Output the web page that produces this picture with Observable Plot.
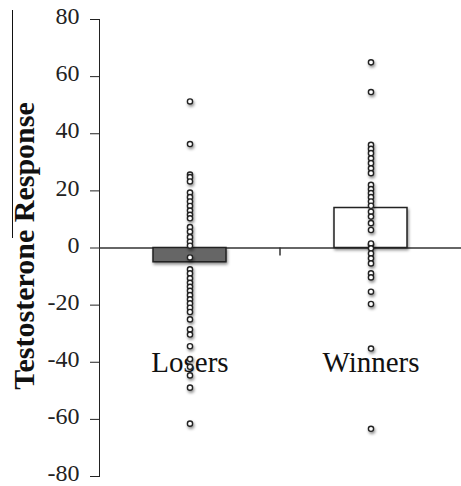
<!DOCTYPE html>
<html><head><meta charset="utf-8">
<script src="https://cdn.jsdelivr.net/npm/d3@7"></script>
<script src="https://cdn.jsdelivr.net/npm/@observablehq/plot@0.6"></script>
<style>
body{margin:0;background:#fff;overflow:hidden}
#wrap{position:relative;width:461px;height:486px}
#stray{position:absolute;left:12px;top:10px;height:228px;border-left:1.5px solid #111}
</style>
</head><body><div id="wrap"><div id="stray"></div></div>
<script>
const categories = ["Losers", "Winners"];
const means = [-5, 14];
const barFills = ["#666666", "#ffffff"];
const losersValues = [51.3, 36.4, 25.7, 24.8, 23.3, 19.4, 17.8, 16.3, 14.7, 13.1, 11.6, 10.4, 7.3, 5.7, 3.8, 2.2, 0.8, -3.3, -7.5, -8.9, -10.6, -12.2, -13.6, -15.0, -16.5, -18.0, -19.4, -20.9, -22.4, -25.0, -28.5, -30.3, -34.4, -38.9, -41.6, -44.6, -48.9, -61.5];
const winnersValues = [65.0, 54.6, 36.1, 34.7, 33.2, 31.4, 29.7, 27.9, 26.2, 22.1, 20.6, 19.2, 17.8, 16.3, 14.8, 12.7, 11.0, 8.7, 6.3, 1.1, 1.6, -0.1, -1.9, -3.6, -5.4, -8.9, -10.3, -15.3, -19.6, -35.2, -63.3];
const yTicks = [80, 60, 40, 20, 0, -20, -40, -60, -80];
const yLabel = "Testosterone Response";
const categoryLabelValue = -40;

const bars = categories.map((c, i) => ({group: c, mean: means[i], fill: barFills[i]}));
const points = [
  ...losersValues.map(v => ({group: "Losers", value: v})),
  ...winnersValues.map(v => ({group: "Winners", value: v}))
];

const plot = Plot.plot({
  width: 461, height: 486,
  marginLeft: 99, marginRight: 0, marginTop: 19, marginBottom: 10,
  style: {fontFamily: "'Liberation Serif', 'Times New Roman', serif", fontSize: "24px", color: "#222", background: "#fff"},
  x: {domain: categories, padding: 0, axis: null},
  y: {domain: [-80, 80], ticks: yTicks, tickFormat: d => String(d), tickSize: 9, tickPadding: 11, line: true, label: null},
  marks: [
    Plot.ruleY([0], {stroke: "#333", strokeWidth: 1.5}),
    Plot.barY(bars, {x: "group", y: "mean", fill: "fill", stroke: "#222", strokeWidth: 1.5, insetLeft: 54, insetRight: 54}),
    Plot.text(categories, {x: d => d, y: () => categoryLabelValue, fontSize: 29, fill: "#111"}),
    Plot.dot(points, {x: "group", y: "value", r: 2.6, fill: "#fff", stroke: "#222", strokeWidth: 1.4}),
    Plot.text([yLabel], {frameAnchor: "left", textAnchor: "middle", rotate: -90, dx: -75, dy: -2, fontSize: 30, fontWeight: "bold", fill: "#111"})
  ]
});

document.getElementById("wrap").appendChild(plot);

// drop shadow + category separator tick
const svg = d3.select(plot);
const defs = svg.insert("defs", ":first-child");
const f = defs.append("filter").attr("id", "shadow").attr("x", "-50%").attr("y", "-50%").attr("width", "200%").attr("height", "200%");
f.append("feDropShadow").attr("dx", 1).attr("dy", 2).attr("stdDeviation", 1.5).attr("flood-color", "#000").attr("flood-opacity", 0.45);
svg.selectAll("g[aria-label='bar'], g[aria-label='dot']").attr("filter", "url(#shadow)");

// nudge tick labels up slightly, as in the reference
svg.selectAll("g[aria-label='y-axis tick label']").each(function() {
  const t = this.getAttribute("transform") || "";
  this.setAttribute("transform", (t + " translate(0,-3)").trim());
});

const xs = plot.scale("x"), ys = plot.scale("y");
const sepX = xs.apply(categories[1]);
const y0 = ys.apply(0);
svg.append("line").attr("x1", sepX).attr("x2", sepX).attr("y1", y0).attr("y2", y0 + 8)
  .attr("stroke", "#333").attr("stroke-width", 1.5);
</script>
</body></html>
